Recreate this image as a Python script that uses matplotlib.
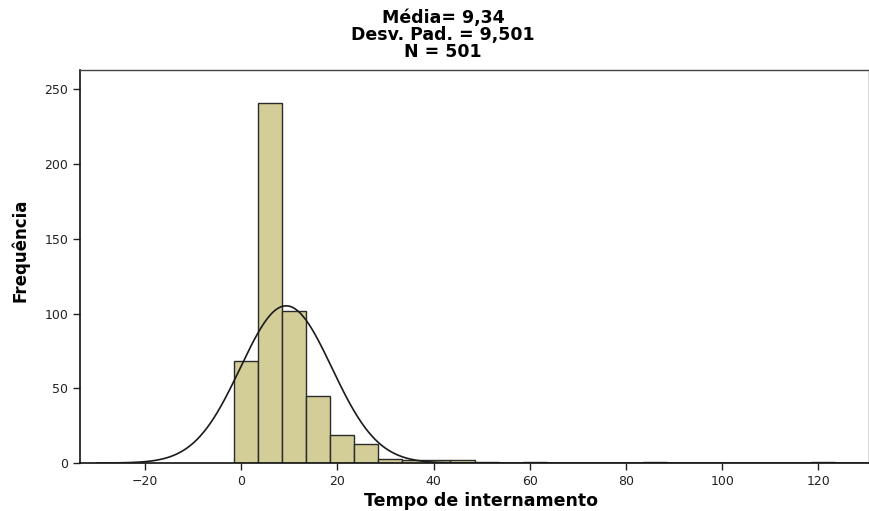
import numpy as np
import matplotlib.pyplot as plt

plt.rcParams['font.family'] = ['DejaVu Sans']

# histogram bins (width 5) and counts
bin_edges = [-1.5, 3.5, 8.5, 13.5, 18.5, 23.5, 28.5, 33.5, 38.5, 43.5, 48.5,
             58.5, 83.5, 118.5]
counts = [68, 241, 102, 45, 19, 13, 3, 2, 2, 2, 1, 1, 1, 1]
bin_width = 5
mean = 9.34
sd = 9.501
n = 501

x_ticks = [-20, 0, 20, 40, 60, 80, 100, 120]
y_ticks = [0, 50, 100, 150, 200, 250]
title_lines = ['Média= 9,34', 'Desv. Pad. = 9,501', 'N = 501']

fig = plt.figure(figsize=(8.69, 5.11), dpi=100)
ax = fig.add_axes([80 / 869, 1 - 463 / 511, 789 / 869, 393 / 511])

ax.bar(bin_edges, counts, width=bin_width, align='edge',
       color='#d3cd97', edgecolor='#2b2b2b', linewidth=1.0, zorder=2)

# normal curve scaled to counts
xs = np.linspace(-30, 130, 800)
ys = n * bin_width * np.exp(-0.5 * ((xs - mean) / sd) ** 2) / (sd * np.sqrt(2 * np.pi))
ax.plot(xs, ys, color='#1a1a1a', linewidth=1.2, zorder=3)

ax.set_xlim(-33.5, 130.5)
ax.set_ylim(0, 263)
ax.set_xticks(x_ticks)
ax.set_yticks(y_ticks)
ax.tick_params(direction='out', length=5, width=1, labelsize=9, colors='#222222')

for side in ['left', 'bottom']:
    ax.spines[side].set_color('#111111')
    ax.spines[side].set_linewidth(1.2)
for side in ['top', 'right']:
    ax.spines[side].set_color('#444444')
    ax.spines[side].set_linewidth(1.0)

fig.text(20 / 869, 1 - 250 / 511, 'Frequência', rotation=90, ha='center', va='center',
         fontsize=12, fontweight='bold')
fig.text(481 / 869, 1 - 501 / 511, 'Tempo de internamento', ha='center', va='center',
         fontsize=12.5, fontweight='bold')
for i, line in enumerate(title_lines):
    fig.text(443 / 869, 1 - (18 + 17 * i) / 511, line,
             ha='center', va='center', fontsize=12.5, fontweight='bold')

fig.savefig('out.png', dpi=100, facecolor='white')
